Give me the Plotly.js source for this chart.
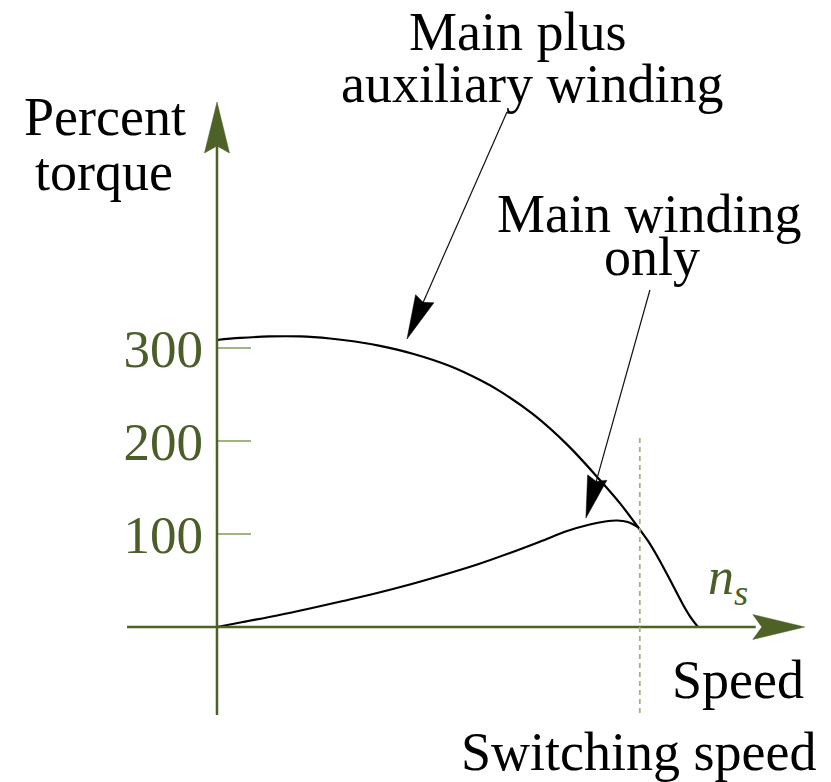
<!DOCTYPE html>
<html>
<head>
<meta charset="utf-8">
<script src="https://cdn.plot.ly/plotly-3.0.1.min.js"></script>
<style>html,body{margin:0;padding:0;background:#fff;}#chart{width:831px;height:782px;}</style>
</head>
<body>
<div id="chart"></div>
<script>
// Speed as percent of synchronous speed n_s; torque in percent
const speedBoth = [0, 4.8, 11.0, 17.3, 23.5, 28.7, 33.9, 40.7, 48.4, 54.7, 58.8, 65.7, 72.8, 79.6, 83.8, 87.5, 89.6, 91.5, 94.2, 96.7, 98.3, 100];
const torqueBoth = [308.6, 310.8, 312.4, 312.4, 310.2, 307.0, 302.2, 293.8, 280.6, 265.5, 253.6, 228.8, 196.1, 158.1, 132.9, 107.5, 92.5, 76.3, 50.5, 25.8, 11.8, 0];
const speedMain = [0, 5.4, 12.5, 19.3, 26.2, 33.3, 40.1, 47.0, 54.1, 60.9, 67.2, 72.8, 77.5, 80.7, 83.2, 85.4, 87.5];
const torqueMain = [0, 5.4, 12.4, 19.9, 28.0, 36.6, 45.7, 55.9, 67.2, 79.6, 91.9, 103.2, 110.2, 113.4, 114.5, 112.9, 107.5];
const yTicks = [100, 200, 300];
const yTickText = ['100', '200', '300'];
const switchingSpeed = 87.9;

const W = 831, H = 782;
const xRange = [-45.11, 127.65];
const yRange = [-166.67, 674.19];
const AX = '#4e6126', TICK = '#9fb47f', DASH = '#a0b67f', TXT = '#4b5d28';
const FONT = 'Liberation Serif, Times New Roman, serif';

// arrow head as pixel-sized path anchored at a data point
function head(tx, ty, ux, uy, len, hw, notch, color) {
  const n = Math.hypot(ux, uy); ux /= n; uy /= n;
  const px = -uy, py = ux;
  const c1 = [ux*len + px*hw, uy*len + py*hw];
  const c2 = [ux*len - px*hw, uy*len - py*hw];
  const nb = [ux*(len-notch), uy*(len-notch)];
  const f = v => v.toFixed(2);
  return {type:'path', xref:'x', yref:'y', xsizemode:'pixel', ysizemode:'pixel',
    xanchor:tx, yanchor:ty, layer:'above',
    path:`M0,0 L${f(c1[0])},${f(c1[1])} L${f(nb[0])},${f(nb[1])} L${f(c2[0])},${f(c2[1])} Z`,
    fillcolor:color, line:{color:color, width:0.5}};
}
function pointer(tx, ty, dx, dy, len, hw, notch) {
  return [
    {type:'line', xref:'x', yref:'y', xsizemode:'pixel', ysizemode:'pixel',
     xanchor:tx, yanchor:ty, x0:dx*0.15, y0:dy*0.15, x1:dx, y1:dy, layer:'above',
     line:{color:'#111', width:1.2}},
    head(tx, ty, dx, dy, len, hw, notch, '#000')
  ];
}

const shapes = [
  {type:'line', xref:'x', yref:'y', x0:0, x1:0, y0:-94.6, y1:520, line:{color:AX, width:2.5}},
  head(0, 564.5, 0, -1, 51, 12.5, 7, AX),
  {type:'line', xref:'x', yref:'y', x0:-18.7, x1:112, y0:0, y1:0, line:{color:AX, width:2.5}},
  head(122.2, 0, -1, 0, 52, 12.5, 9, AX),
  {type:'line', xref:'x', yref:'y', x0:switchingSpeed, x1:switchingSpeed, y0:-92.5, y1:203.2,
   line:{color:DASH, width:1.8, dash:'5px,4px'}},
  ...pointer(39.5, 309.7, 100, 227, 44, 10, 4),
  ...pointer(76.7, 117.2, 64, 228, 42, 10, 4)
];

function txt(text, cx, cy, opts) {
  return Object.assign({text:text, xref:'paper', yref:'paper', x:cx/W, y:1-cy/H,
    xanchor:'center', yanchor:'middle', showarrow:false,
    font:{family:FONT, size:54, color:'#000'}}, opts||{});
}
const annotations = [
  txt('Main plus', 517.5, 32),
  txt('auxiliary winding', 531.5, 84),
  txt('Percent', 105, 117),
  txt('torque', 104, 172),
  txt('Main winding', 649, 214),
  txt('only', 651.5, 257),
  txt('Speed', 738, 680),
  txt('Switching speed', 638.5, 752),
  txt('<i>n</i><sub><i>s</i></sub>', 728, 580, {font:{family:FONT, size:52, color:TXT}})
];

const traces = [
  {x:speedBoth, y:torqueBoth, mode:'lines', line:{color:'#000', width:2.2, shape:'spline', smoothing:1},
   name:'Main plus auxiliary winding', cliponaxis:false, hoverinfo:'skip'},
  {x:speedMain, y:torqueMain, mode:'lines', line:{color:'#000', width:2.2, shape:'spline', smoothing:1},
   name:'Main winding only', cliponaxis:false, hoverinfo:'skip'}
];

const layout = {
  width:W, height:H, margin:{l:0, r:0, t:0, b:0}, showlegend:false,
  paper_bgcolor:'#fff', plot_bgcolor:'#fff',
  xaxis:{range:xRange, visible:false, showgrid:false, zeroline:false, fixedrange:true},
  yaxis:{range:yRange, anchor:'free', position:217/W, side:'left',
    tickvals:yTicks, ticktext:yTickText, ticks:'inside', ticklen:33, tickwidth:2.2, tickcolor:TICK,
    ticklabelstandoff:14,
    showline:false, showgrid:false, zeroline:false, fixedrange:true,
    tickfont:{family:FONT, size:53, color:TXT}},
  shapes:shapes, annotations:annotations
};

Plotly.newPlot('chart', traces, layout, {displayModeBar:false, staticPlot:true});
</script>
</body>
</html>
